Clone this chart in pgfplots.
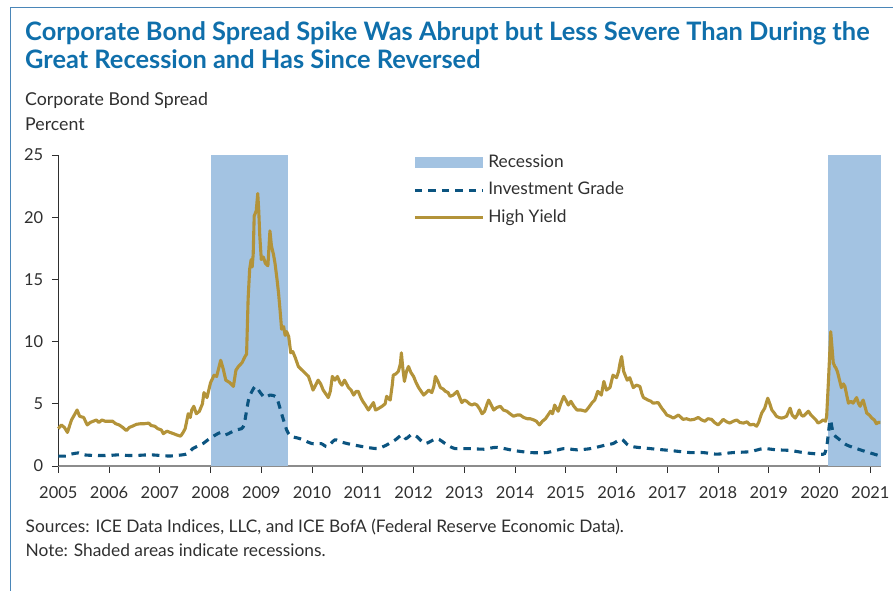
\documentclass[border=0pt]{standalone}
\usepackage{pgfplots}
\pgfplotsset{compat=1.18}
\usepackage{fontspec}
\setmainfont{Lato}

\definecolor{titleblue}{HTML}{0F6FAB}
\definecolor{frameblue}{HTML}{4A86B8}
\definecolor{recess}{HTML}{A3C3E2}
\definecolor{igblue}{HTML}{0B5480}
\definecolor{hygold}{HTML}{B39339}
\definecolor{txt}{HTML}{2F2F2F}
\definecolor{axgray}{HTML}{8C8C8C}

% legend samples: a long line and a flat shaded bar, followed by a small gap
\pgfplotsset{
  lineleg/.style={legend image code/.code={\draw[##1] (0bp,0bp) -- (68bp,0bp); \path (72bp,0bp);}},
  recleg/.style={legend image code/.code={\fill[recess] (0bp,-5.5bp) rectangle (68bp,5.5bp); \path (72bp,0bp);}},
}

\begin{document}
\begin{tikzpicture}
\useasboundingbox (0bp,0bp) rectangle (893bp,591bp);

% frame
\draw[frameblue, line width=1.1bp] (10.3bp,0bp) -- (10.3bp,583.5bp) -- (893bp,583.5bp);

% title and axis caption
\node[anchor=base west, inner sep=0pt, text=titleblue, font=\fontsize{25.5}{30}\selectfont\bfseries]
  at (25bp,550.3bp) {Corporate Bond Spread Spike Was Abrupt but Less Severe Than During the};
\node[anchor=base west, inner sep=0pt, text=titleblue, font=\fontsize{25.5}{30}\selectfont\bfseries]
  at (25bp,522bp) {Great Recession and Has Since Reversed};
\node[anchor=base west, inner sep=0pt, text=txt, font=\fontsize{17.8}{20}\selectfont]
  at (25bp,485bp) {Corporate Bond Spread};
\node[anchor=base west, inner sep=0pt, text=txt, font=\fontsize{17.8}{20}\selectfont]
  at (25bp,460.3bp) {Percent};

\begin{axis}[
  at={(58.3bp,125bp)}, anchor=south west,
  width=822.4bp, height=311bp, scale only axis,
  xmin=2005, xmax=2021.205, ymin=0, ymax=25,
  axis x line*=bottom, axis y line*=left,
  x axis line style={axgray, line width=1.6bp},
  y axis line style={txt, line width=0.9bp},
  xtick={2005,2006,...,2021}, ytick={0,5,...,25},
  tick align=outside, major tick length=6.5bp,
  every tick/.style={txt, line width=0.9bp},
  tick label style={font=\fontsize{16.5}{20}\selectfont, text=txt},
  /pgf/number format/assume math mode=true,
  /pgf/number format/1000 sep={},
  xticklabel style={inner sep=0pt, anchor=north, yshift=-14bp},
  yticklabel style={inner sep=0pt, anchor=east, xshift=-8.5bp},
  clip=false,
  legend style={at={(axis description cs:0.4313,1.0)}, anchor=north west,
    draw=none, fill=none, inner sep=0pt, row sep=12bp,
    font=\fontsize{17.4}{20}\selectfont, text=txt,
    nodes={inner sep=0pt, text height=12bp, text depth=3.5bp},
    /tikz/every even column/.style={column sep=0bp}},
  legend cell align=left,
]

% recessions
\addplot[draw=none, fill=recess, recleg]
  coordinates {(2008.0,0) (2008.0,25) (2009.52,25) (2009.52,0)} -- cycle;
\addlegendentry{Recession}
\addplot[draw=none, fill=recess, forget plot]
  coordinates {(2020.17,0) (2020.17,25) (2021.205,25) (2021.205,0)} -- cycle;

% investment grade
\addplot[igblue, line width=3.1bp, dash pattern=on 7.5bp off 6bp, smooth, tension=0.4, lineleg]
  table {
x y
2005.00 0.80
2005.15 0.80
2005.25 0.95
2005.40 1.05
2005.50 0.90
2005.70 0.85
2006.00 0.85
2006.20 0.90
2006.35 0.85
2006.55 0.85
2006.80 0.90
2007.00 0.85
2007.20 0.80
2007.45 0.90
2007.55 1.00
2007.65 1.40
2007.75 1.60
2007.85 1.80
2007.98 2.20
2008.10 2.50
2008.20 2.70
2008.29 2.50
2008.40 2.70
2008.50 2.90
2008.61 3.00
2008.66 3.30
2008.70 4.20
2008.76 5.50
2008.88 6.40
2008.98 5.90
2009.07 5.50
2009.17 5.70
2009.30 5.50
2009.40 4.20
2009.50 2.90
2009.58 2.40
2009.76 2.20
2010.00 1.80
2010.18 1.80
2010.30 1.55
2010.45 2.10
2010.60 1.90
2010.75 1.75
2011.01 1.55
2011.28 1.40
2011.45 1.65
2011.64 2.10
2011.77 2.50
2011.85 2.20
2011.97 2.55
2012.07 2.35
2012.23 1.80
2012.46 2.20
2012.66 1.70
2012.82 1.40
2013.12 1.40
2013.38 1.35
2013.64 1.50
2013.97 1.25
2014.30 1.08
2014.63 1.08
2014.96 1.40
2015.22 1.30
2015.49 1.40
2015.80 1.70
2015.93 1.80
2016.10 2.15
2016.26 1.60
2016.66 1.40
2017.05 1.25
2017.45 1.08
2017.71 1.08
2017.97 0.95
2018.30 1.08
2018.63 1.15
2018.89 1.40
2019.15 1.30
2019.42 1.25
2019.68 1.08
2020.00 0.95
2020.10 1.00
2020.15 1.80
2020.21 3.70
2020.27 2.60
2020.37 2.20
2020.53 1.70
2020.80 1.30
2021.20 0.80
};
\addlegendentry{Investment Grade}

% high yield
\addplot[hygold, line width=3.1bp, line join=round, lineleg]
  table {
x y
2005.00 3.0
2005.06 3.3
2005.12 3.1
2005.18 2.7
2005.26 3.7
2005.33 4.2
2005.37 4.5
2005.42 4.0
2005.50 3.9
2005.57 3.3
2005.63 3.5
2005.69 3.6
2005.75 3.7
2005.80 3.5
2005.86 3.7
2005.92 3.6
2006.00 3.6
2006.07 3.6
2006.13 3.4
2006.20 3.3
2006.27 3.1
2006.34 2.85
2006.40 3.1
2006.46 3.2
2006.54 3.35
2006.62 3.4
2006.70 3.4
2006.78 3.45
2006.83 3.25
2006.90 3.2
2006.96 3.0
2007.03 2.9
2007.07 2.6
2007.14 2.8
2007.20 2.7
2007.27 2.6
2007.33 2.5
2007.41 2.4
2007.46 2.7
2007.50 3.0
2007.56 4.2
2007.60 3.9
2007.63 4.5
2007.67 4.8
2007.72 4.2
2007.78 4.4
2007.84 5.0
2007.87 5.9
2007.93 5.5
2008.00 6.7
2008.07 7.3
2008.12 7.2
2008.20 8.5
2008.25 7.8
2008.30 6.9
2008.38 6.7
2008.45 6.4
2008.50 7.7
2008.55 8.0
2008.62 8.3
2008.68 8.8
2008.71 9.0
2008.74 13.4
2008.77 15.8
2008.80 16.6
2008.82 16.0
2008.84 17.0
2008.86 20.1
2008.90 20.5
2008.93 21.9
2008.95 20.5
2008.97 18.5
2009.00 16.6
2009.04 16.8
2009.08 16.3
2009.13 16.1
2009.17 18.9
2009.20 17.7
2009.24 17.0
2009.27 16.3
2009.31 15.0
2009.34 13.9
2009.37 12.5
2009.40 11.0
2009.44 11.2
2009.47 10.5
2009.50 10.8
2009.54 10.4
2009.58 9.1
2009.62 9.2
2009.67 8.7
2009.73 8.0
2009.78 7.8
2009.83 7.6
2009.88 7.4
2009.93 7.2
2009.98 6.6
2010.02 6.1
2010.07 6.5
2010.12 6.9
2010.17 6.6
2010.22 6.1
2010.27 5.8
2010.32 5.5
2010.36 6.0
2010.40 7.2
2010.45 6.9
2010.50 7.2
2010.55 6.7
2010.59 6.5
2010.64 6.9
2010.72 6.3
2010.77 6.1
2010.82 5.7
2010.87 6.0
2010.91 6.0
2010.96 5.5
2011.00 5.2
2011.05 4.9
2011.11 4.5
2011.16 4.8
2011.21 5.1
2011.25 4.5
2011.30 4.6
2011.38 4.8
2011.44 5.0
2011.47 5.6
2011.54 5.3
2011.58 6.5
2011.60 7.3
2011.65 7.4
2011.70 7.6
2011.74 8.2
2011.76 9.1
2011.79 7.8
2011.82 6.8
2011.86 7.6
2011.90 8.0
2011.95 7.5
2012.00 7.2
2012.05 6.7
2012.10 6.3
2012.15 6.0
2012.20 5.7
2012.25 5.9
2012.30 6.1
2012.36 5.9
2012.40 6.4
2012.43 7.2
2012.48 6.8
2012.53 6.3
2012.58 6.2
2012.63 6.0
2012.68 5.9
2012.72 5.6
2012.78 5.7
2012.86 6.0
2012.90 5.6
2012.95 5.1
2013.00 5.3
2013.05 5.2
2013.10 5.0
2013.15 4.9
2013.20 5.0
2013.25 4.9
2013.30 4.6
2013.35 4.2
2013.40 4.4
2013.45 5.0
2013.48 5.3
2013.53 4.9
2013.58 4.5
2013.64 4.7
2013.71 4.8
2013.77 4.5
2013.84 4.4
2013.90 4.2
2013.97 4.0
2014.04 4.1
2014.10 4.1
2014.17 3.9
2014.24 3.8
2014.30 3.8
2014.37 3.7
2014.42 3.6
2014.48 3.3
2014.54 3.6
2014.60 3.8
2014.65 4.1
2014.70 4.4
2014.74 4.2
2014.78 4.9
2014.82 4.6
2014.85 4.4
2014.90 5.0
2014.96 5.6
2015.00 5.3
2015.05 4.9
2015.10 5.2
2015.16 4.8
2015.22 4.5
2015.30 4.5
2015.39 4.4
2015.45 4.7
2015.52 5.1
2015.57 5.3
2015.63 6.0
2015.70 5.7
2015.75 6.8
2015.80 6.1
2015.87 6.3
2015.93 7.3
2016.00 7.1
2016.04 7.6
2016.07 8.3
2016.10 8.8
2016.14 7.6
2016.18 7.2
2016.21 6.9
2016.26 7.1
2016.33 6.3
2016.39 6.5
2016.46 6.4
2016.50 5.8
2016.53 5.5
2016.62 5.3
2016.68 5.2
2016.72 5.05
2016.82 5.1
2016.89 4.65
2016.94 4.4
2016.99 4.1
2017.05 4.0
2017.12 3.85
2017.22 4.1
2017.31 3.75
2017.38 3.8
2017.45 3.7
2017.53 3.75
2017.61 3.9
2017.68 3.7
2017.74 3.6
2017.80 3.8
2017.87 3.75
2017.93 3.5
2018.00 3.3
2018.05 3.5
2018.10 3.75
2018.17 3.55
2018.23 3.45
2018.30 3.6
2018.37 3.7
2018.43 3.5
2018.50 3.45
2018.57 3.55
2018.63 3.3
2018.70 3.35
2018.76 3.2
2018.80 3.5
2018.86 4.25
2018.92 4.65
2018.96 5.2
2018.98 5.45
2019.02 5.0
2019.06 4.5
2019.10 4.3
2019.15 4.0
2019.20 3.9
2019.25 3.85
2019.30 3.9
2019.35 4.0
2019.42 4.65
2019.46 4.1
2019.52 3.85
2019.56 4.1
2019.60 4.5
2019.64 4.1
2019.68 4.0
2019.73 4.2
2019.78 4.4
2019.83 4.1
2019.88 3.9
2019.93 3.7
2019.97 3.45
2020.02 3.55
2020.07 3.7
2020.12 3.6
2020.14 4.0
2020.17 6.4
2020.20 9.0
2020.22 10.8
2020.24 9.8
2020.27 8.3
2020.30 8.0
2020.32 7.9
2020.35 7.6
2020.37 7.3
2020.40 6.8
2020.43 6.3
2020.47 6.6
2020.50 6.4
2020.54 5.6
2020.57 5.05
2020.62 5.2
2020.66 5.05
2020.70 5.3
2020.73 5.5
2020.77 5.0
2020.80 4.8
2020.83 5.1
2020.86 5.3
2020.90 4.7
2020.93 4.25
2020.98 4.1
2021.03 3.85
2021.08 3.7
2021.12 3.4
2021.16 3.5
2021.20 3.5
};
\addlegendentry{High Yield}
\end{axis}

% source notes
\node[anchor=base west, inner sep=0pt, text=txt, font=\fontsize{17.4}{20}\selectfont]
  at (25.5bp,58bp) {Sources: ICE Data Indices, LLC, and ICE BofA (Federal Reserve Economic Data).};
\node[anchor=base west, inner sep=0pt, text=txt, font=\fontsize{17.4}{20}\selectfont]
  at (25.5bp,35bp) {Note: Shaded areas indicate recessions.};
\end{tikzpicture}
\end{document}
